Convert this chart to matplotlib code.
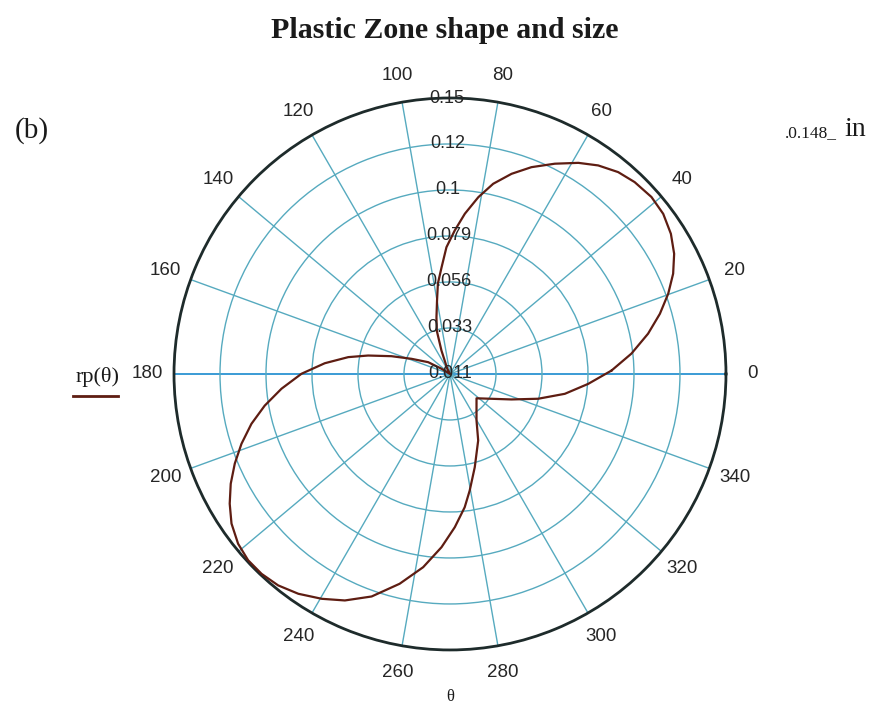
import numpy as np
import matplotlib
matplotlib.use('Agg')
import matplotlib.pyplot as plt

# rp(theta) read along the plastic zone boundary, theta in degrees, radius in inches
theta_deg = [1.2, 6.4, 11.5, 16.0, 20.2, 24.2, 28.2, 32.4, 36.9, 41.3,
             46.1, 50.2, 54.6, 58.7, 63.5, 68.5, 72.9, 77.2, 80.9, 84.7,
             88.1, 91.6, 94.5, 97.6, 100.0, 103.5, 107.0, 110.0, 117.0, 130.0,
             148.5, 151.6, 158.5, 163.1, 167.3, 170.6, 175.1, 179.9, 185.0, 189.7,
             194.1, 198.5, 202.6, 206.6, 210.5, 214.4, 218.7, 222.7, 226.7, 230.9,
             235.4, 240.3, 245.1, 250.6, 256.5, 262.1, 267.2, 271.8, 276.3, 279.6,
             284.9, 293.0, 299.7, 317.5, 337.5, 344.3, 350.2, 355.9]
rp_in = [0.0866, 0.0979, 0.1084, 0.1171, 0.1247, 0.1312, 0.1364, 0.1403, 0.1430, 0.1438,
         0.1428, 0.1409, 0.1372, 0.1325, 0.1260, 0.1192, 0.1123, 0.1046, 0.0960, 0.0863,
         0.0770, 0.0680, 0.0574, 0.0490, 0.0400, 0.0311, 0.0241, 0.0134, 0.0032, 0.0,
         0.0054, 0.0133, 0.0222, 0.0328, 0.0450, 0.0553, 0.0674, 0.0796, 0.0907, 0.1008,
         0.1098, 0.1179, 0.1250, 0.1315, 0.1371, 0.1420, 0.1456, 0.1473, 0.1473, 0.1461,
         0.1432, 0.1388, 0.1339, 0.1265, 0.1157, 0.1046, 0.0930, 0.0822, 0.0719, 0.0634,
         0.0517, 0.0387, 0.0287, 0.0193, 0.0357, 0.0491, 0.0625, 0.0743]

r_max = 0.148  # outer ring [in]
radial_labels = ['0.011', '0.033', '0.056', '0.079', '0.1', '0.12', '0.15']
angle_ticks = list(range(0, 360, 20))

grid_col = '#56aabf'
axis_col = '#3a9bd5'
curve_col = '#5e1d12'
text_col = '#262626'

fig = plt.figure(figsize=(8.73, 7.28), dpi=100)
ax = fig.add_axes([0.1993, 0.1072, 0.6323, 0.7582], projection='polar')

# close the loop back to the first sample
th = np.deg2rad(theta_deg + theta_deg[:1])
rr = rp_in + rp_in[:1]
ax.plot(th, rr, color=curve_col, lw=1.6, zorder=5)

ax.set_ylim(0, r_max)
ax.set_yticks([r_max * k / 6 for k in range(1, 6)])
ax.set_yticklabels([])
ax.set_xticks(np.deg2rad(angle_ticks))
ax.set_xticklabels([])
ax.grid(True, color=grid_col, lw=1.0)
gl = ax.xaxis.get_gridlines()
for i in (0, 9):
    gl[i].set_color(axis_col)
    gl[i].set_linewidth(1.4)
ax.spines['polar'].set_color('#1e2b2b')
ax.spines['polar'].set_linewidth(2.0)

# angle labels outside the rim
for a in angle_ticks:
    ax.text(np.deg2rad(a), r_max * 303 / 276, str(a), ha='center', va='center',
            fontsize=13.5, family='Liberation Sans', color=text_col)

# radial labels stacked up the vertical axis
for k, lab in enumerate(radial_labels):
    ax.text(np.deg2rad(90.6), r_max * k / 6, lab, ha='center', va='center',
            fontsize=13, family='Liberation Sans', color=text_col, zorder=6)

fig.text(0.51, 1 - 31 / 728, 'Plastic Zone shape and size', ha='center', va='center',
         fontsize=21.5, fontweight='bold', family='Liberation Serif', color='#1a1a1a')
fig.text(32 / 873, 1 - 131 / 728, '(b)', ha='center', va='center',
         fontsize=21, family='Liberation Serif', color='#1a1a1a')
fig.text(811 / 873, 1 - 133 / 728, '.0.148_', ha='center', va='center',
         fontsize=12.5, family='Liberation Serif', color='#1a1a1a')
fig.text(855 / 873, 1 - 130 / 728, 'in', ha='center', va='center',
         fontsize=20, family='Liberation Serif', color='#1a1a1a')
fig.text(98 / 873, 1 - 377 / 728, 'rp(θ)', ha='center', va='center',
         fontsize=16, family='Liberation Serif', color='#1a1a1a')
fig.add_artist(plt.Line2D([73 / 873, 118 / 873], [1 - 396 / 728, 1 - 396 / 728],
                          color=curve_col, lw=2))
fig.text(450 / 873, 1 - 697 / 728, 'θ', ha='center', va='center',
         fontsize=12, family='Liberation Serif', color='#1a1a1a')

fig.savefig('out.png', dpi=100)
